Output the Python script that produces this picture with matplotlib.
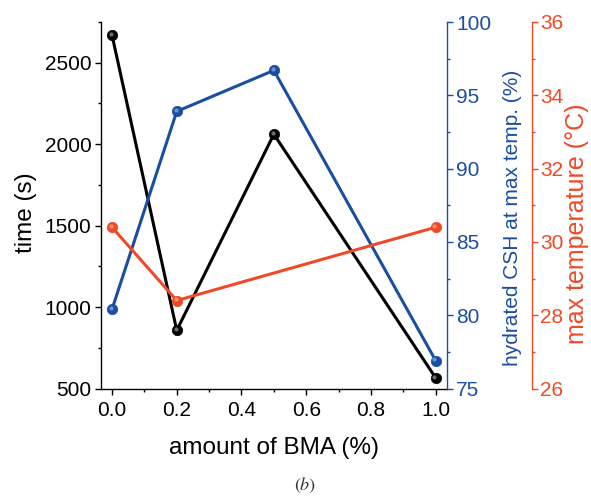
import numpy as np
import matplotlib
matplotlib.use('Agg')
import matplotlib.pyplot as plt
import matplotlib.transforms as mtransforms
from matplotlib.ticker import MultipleLocator

# data
bma = [0.0, 0.2, 0.5, 1.0]
time_s = [2670, 857, 2061, 565]
csh_pct = [80.4, 93.9, 96.7, 76.9]
temp_x = [0.0, 0.2, 1.0]
max_temp = [30.4, 28.4, 30.4]

black = '#000000'
blue = '#1a4ea0'
red = '#ee4a28'

plt.rcParams['font.family'] = ['Liberation Sans', 'DejaVu Sans']
plt.rcParams['mathtext.fontset'] = 'stix'

fig = plt.figure(figsize=(5.91, 4.97), dpi=100)
ax = fig.add_axes([101/591, 1 - 388.5/497, 345.7/591, 366.5/497])
ax2 = ax.twinx()
ax3 = ax.twinx()


def ball_line(axis, x, y, color, hilite):
    axis.plot(x, y, '-', color=color, lw=2.2, marker='o', ms=7.5,
              mfc=color, mec=color, mew=0.5, solid_joinstyle='miter')
    off = mtransforms.offset_copy(axis.transData, fig=fig, x=-1.2, y=1.2, units='dots')
    axis.plot(x, y, 'o', ms=3, color=hilite, alpha=0.7, mew=0, transform=off)


ball_line(ax, bma, time_s, black, '#9a9a9a')
ball_line(ax3, temp_x, max_temp, red, '#ffb0a0')
ball_line(ax2, bma, csh_pct, blue, '#8fb0ea')

ax.set_xlim(-0.034, 1.034)
ax.set_ylim(500, 2750)
ax2.set_ylim(75, 100)
ax3.set_ylim(26, 36)

ax.xaxis.set_major_locator(MultipleLocator(0.2))
ax.xaxis.set_minor_locator(MultipleLocator(0.1))
ax.yaxis.set_major_locator(MultipleLocator(500))
ax.yaxis.set_minor_locator(MultipleLocator(250))
ax2.yaxis.set_major_locator(MultipleLocator(5))
ax2.yaxis.set_minor_locator(MultipleLocator(2.5))
ax3.yaxis.set_major_locator(MultipleLocator(2))
ax3.yaxis.set_minor_locator(MultipleLocator(1))
ax.xaxis.set_major_formatter(plt.FuncFormatter(lambda v, p: f'{v:.1f}'))

# spines
for s in ['top', 'right']:
    ax.spines[s].set_visible(False)
for s in ['top', 'left', 'bottom']:
    ax2.spines[s].set_visible(False)
    ax3.spines[s].set_visible(False)
ax2.spines['right'].set_color(blue)
ax3.spines['right'].set_color(red)
ax3.spines['right'].set_position(('outward', 61.6))
for a in [ax, ax2, ax3]:
    for s in a.spines.values():
        s.set_linewidth(1.0)

ax.tick_params(axis='both', which='major', direction='out', length=4.3, width=1.0,
               labelsize=15, pad=2.5)
ax.tick_params(axis='both', which='minor', direction='out', length=2.5, width=1.0)
ax.tick_params(axis='x', which='major', pad=4.5)
ax2.tick_params(axis='y', which='major', direction='out', length=4.3, width=1.0,
                labelsize=15, pad=2.5, colors=blue)
ax2.tick_params(axis='y', which='minor', direction='out', length=2.5, width=1.0, colors=blue)
ax3.tick_params(axis='y', which='major', direction='out', length=4.3, width=1.0,
                labelsize=15, pad=1.5, colors=red)
ax3.tick_params(axis='y', which='minor', direction='out', length=2.5, width=1.0, colors=red)

# axis titles
fig.text(32/591, 1 - 213/497, 'time (s)', rotation=90, rotation_mode='anchor',
         ha='center', va='baseline', fontsize=17.5)
fig.text(518/591, 1 - 218/497, 'hydrated CSH at max temp. (%)', rotation=90,
         rotation_mode='anchor', ha='center', va='baseline', fontsize=15, color=blue)
fig.text(584/591, 1 - 224/497, 'max temperature (°C)', rotation=90,
         rotation_mode='anchor', ha='center', va='baseline', fontsize=18, color=red)
fig.text(274/591, 1 - 454/497, 'amount of BMA (%)', ha='center', va='baseline',
         fontsize=17.5)
fig.text(305/591, 1 - 490/497, r'$(b)$', ha='center', va='baseline', fontsize=13,
         color='#333333')

fig.savefig('out.png', dpi=100)
